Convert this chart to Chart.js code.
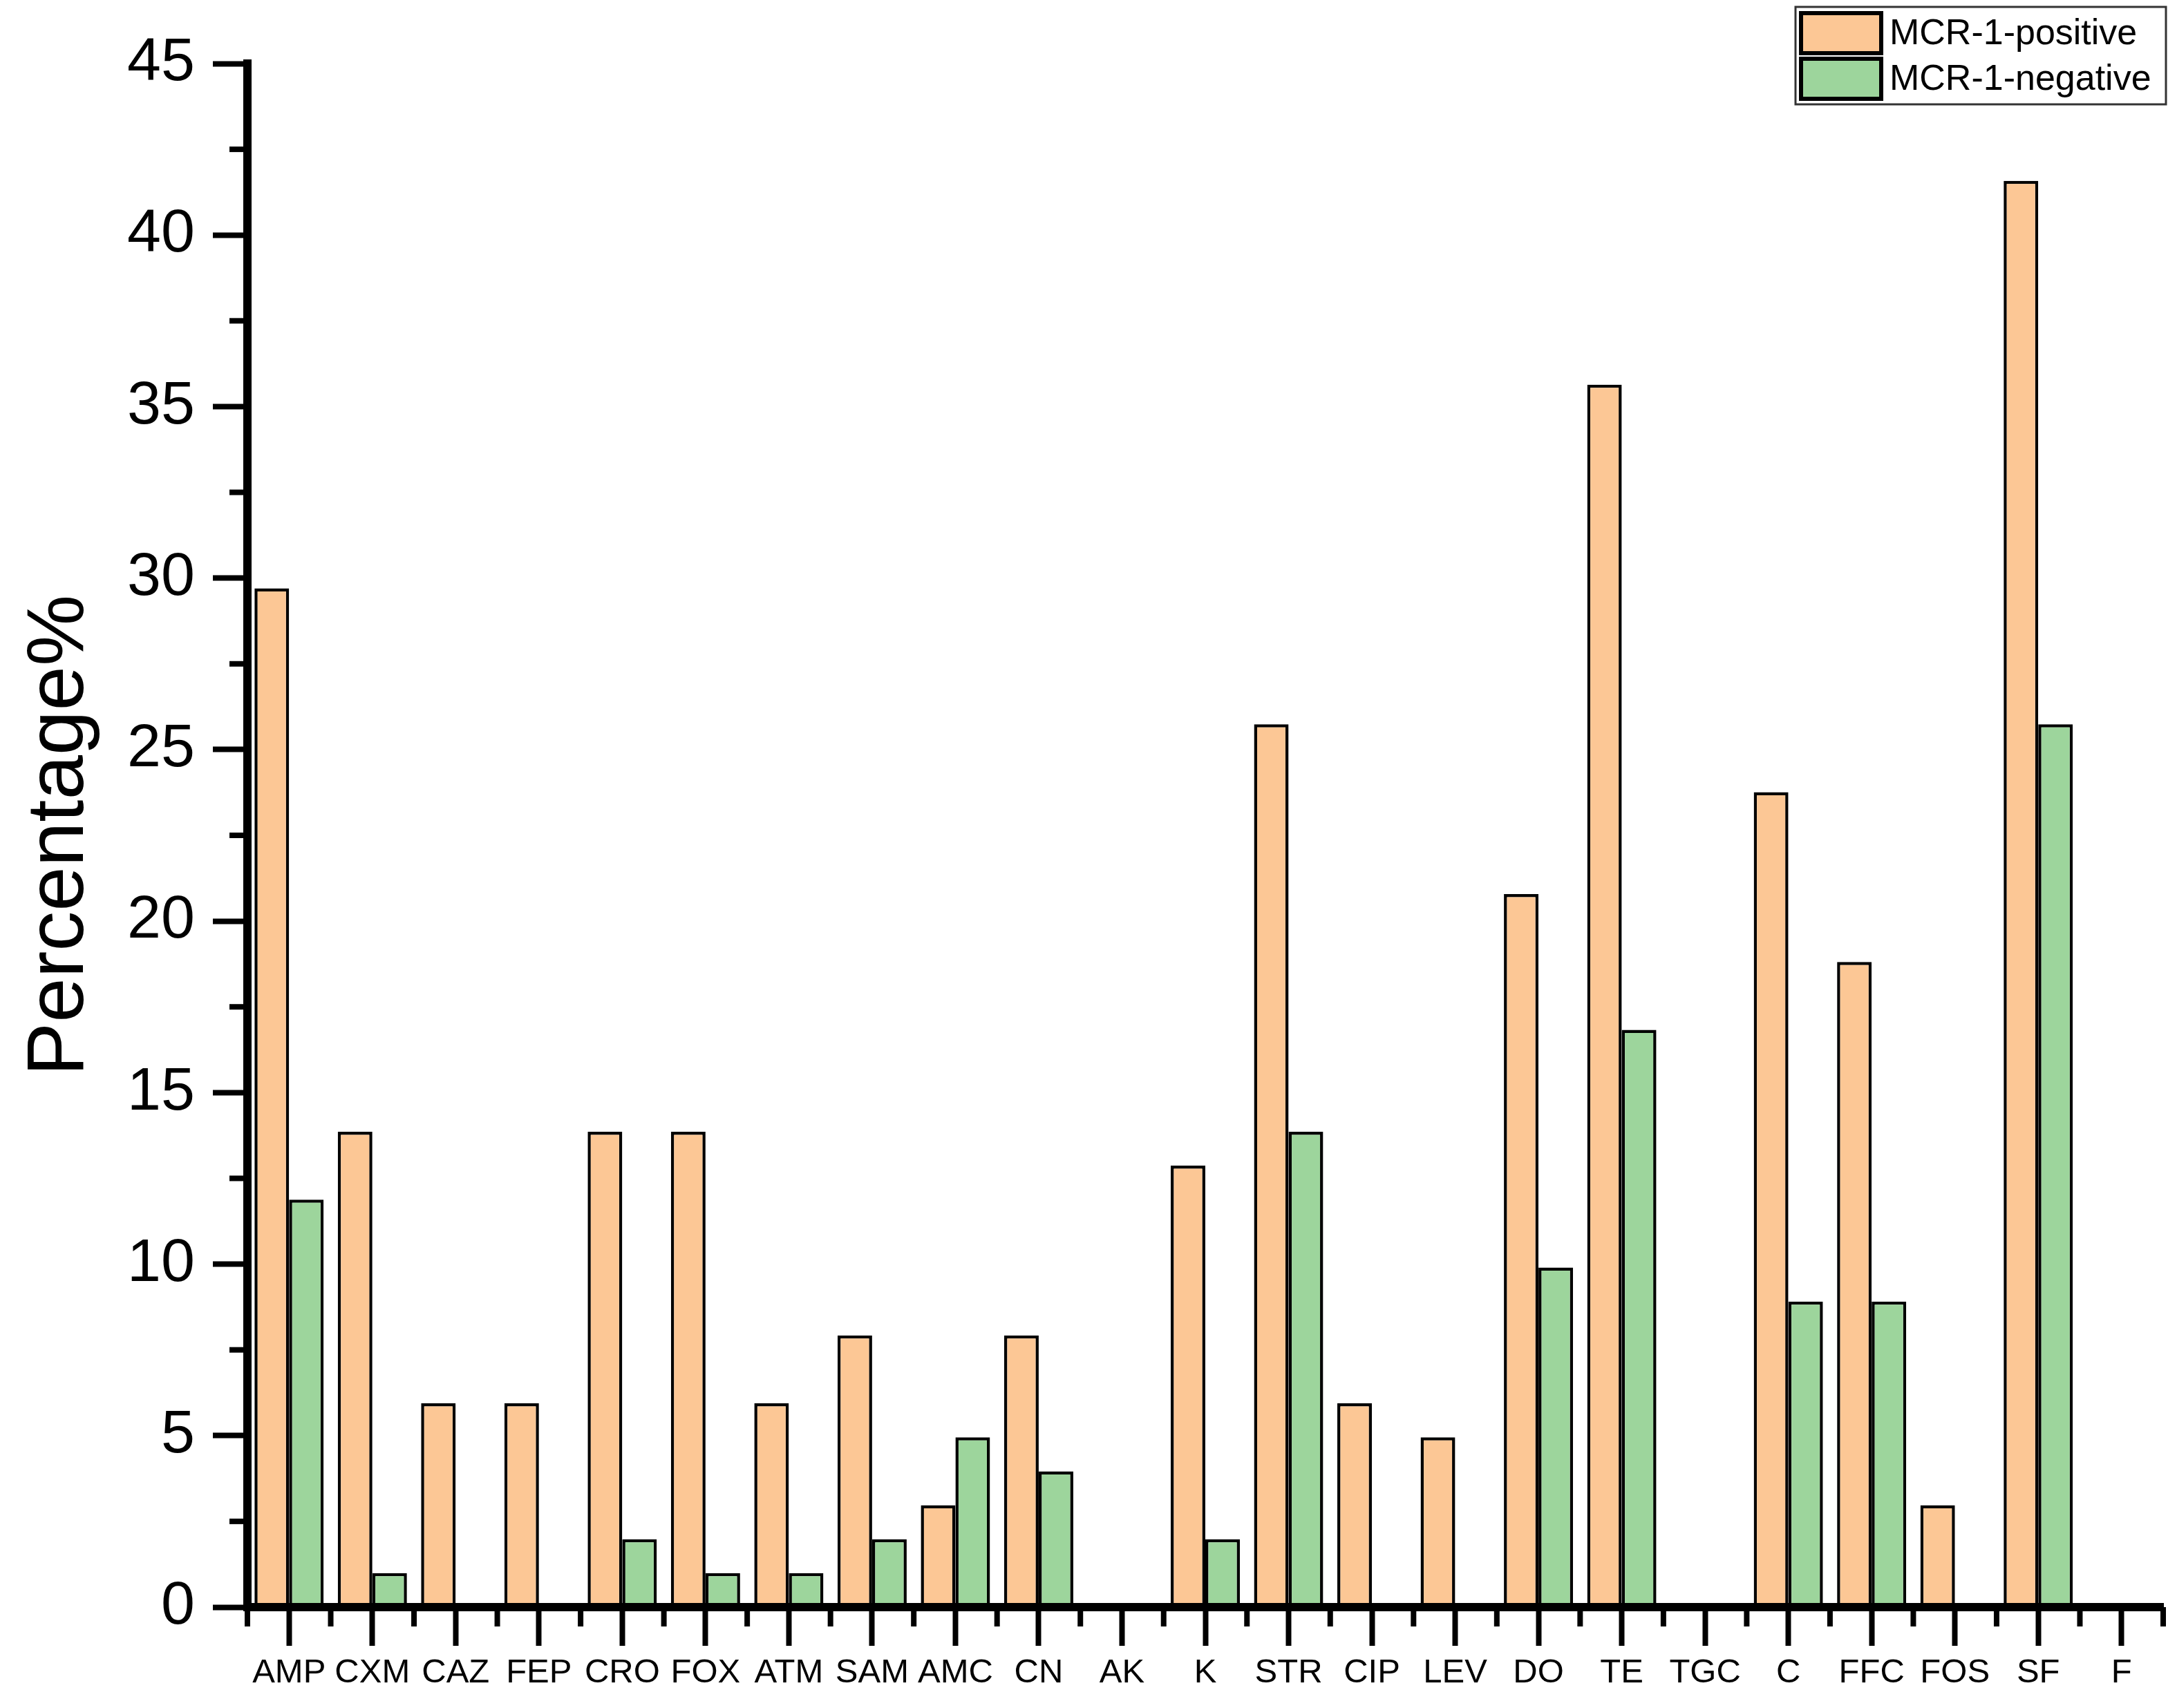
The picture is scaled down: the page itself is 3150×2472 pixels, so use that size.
<!DOCTYPE html>
<html>
<head>
<meta charset="utf-8">
<script src="https://cdn.jsdelivr.net/npm/chart.js@4/dist/chart.umd.min.js"></script>
<style>
  body { margin: 0; background: #fff; }
  #wrap { width: 3150px; height: 2472px; }
</style>
</head>
<body>
<div id="wrap"><canvas id="myChart" width="3150" height="2472"></canvas></div>
<script>
// antibiotics on the x axis
const drugs = ["AMP", "CXM", "CAZ", "FEP", "CRO", "FOX", "ATM", "SAM", "AMC", "CN", "AK", "K",
  "STR", "CIP", "LEV", "DO", "TE", "TGC", "C", "FFC", "FOS", "SF", "F"];
// resistance %
const mcrPositive = [29.70, 13.86, 5.94, 5.94, 13.86, 13.86, 5.94, 7.92, 2.97, 7.92, 0, 12.87,
  25.74, 5.94, 4.95, 20.79, 35.64, 0, 23.76, 18.81, 2.97, 41.58, 0];
const mcrNegative = [11.88, 0.99, 0, 0, 1.98, 0.99, 0.99, 1.98, 4.95, 3.96, 0, 1.98,
  13.86, 0, 0, 9.90, 16.83, 0, 8.91, 8.91, 0, 25.74, 0];
const seriesNames = ["MCR-1-positive", "MCR-1-negative"];
const yTicks = [0, 5, 10, 15, 20, 25, 30, 35, 40, 45];

const FONT = "'Liberation Sans', Arial, sans-serif";

// minor ticks between the major ones (origin style)
const minorTicks = {
  id: "minorTicks",
  afterDraw(chart) {
    const ctx = chart.ctx;
    const x = chart.scales.x, y = chart.scales.y;
    ctx.save();
    ctx.strokeStyle = "#000";
    ctx.lineWidth = 8;
    // y: halfway between labelled ticks
    for (let i = 0; i < yTicks.length - 1; i++) {
      const py = y.getPixelForValue((yTicks[i] + yTicks[i + 1]) / 2);
      ctx.beginPath();
      ctx.moveTo(y.right - 26, py);
      ctx.lineTo(y.right, py);
      ctx.stroke();
    }
    // x: on the category borders
    const half = (x.getPixelForValue(1) - x.getPixelForValue(0)) / 2;
    for (let i = 0; i <= drugs.length; i++) {
      const px = x.getPixelForValue(i) - half;
      ctx.beginPath();
      ctx.moveTo(px, x.top);
      ctx.lineTo(px, x.top + 28);
      ctx.stroke();
    }
    ctx.restore();
  }
};

// boxed legend in the top right corner
const boxLegend = {
  id: "boxLegend",
  afterDraw(chart) {
    const ctx = chart.ctx;
    const left = 2598, top = 10, w = 536, h = 141;
    ctx.save();
    ctx.fillStyle = "#fff";
    ctx.fillRect(left, top, w, h);
    ctx.strokeStyle = "#333";
    ctx.lineWidth = 3;
    ctx.strokeRect(left, top, w, h);
    chart.data.datasets.forEach((ds, i) => {
      const sy = top + 9 + i * 66;
      ctx.fillStyle = ds.backgroundColor;
      ctx.fillRect(left + 8, sy, 116, 58);
      ctx.strokeStyle = "#000";
      ctx.lineWidth = 6;
      ctx.strokeRect(left + 8, sy, 116, 58);
      ctx.fillStyle = "#000";
      ctx.font = "52px " + FONT;
      ctx.textBaseline = "middle";
      ctx.fillText(ds.label, left + 136, sy + 31);
    });
    ctx.restore();
  }
};

// no outline on empty bars, like the original
const edge = (c) => (c.raw === 0 ? 0 : 4.5);
const edgeColor = (c) => (c.raw === 0 ? "rgba(0,0,0,0)" : "#000");

new Chart(document.getElementById("myChart"), {
  type: "bar",
  data: {
    labels: drugs,
    datasets: [
      {
        label: seriesNames[0],
        data: mcrPositive,
        backgroundColor: "#FCC795",
        borderColor: edgeColor,
        borderWidth: edge,
        borderSkipped: "bottom"
      },
      {
        label: seriesNames[1],
        data: mcrNegative,
        backgroundColor: "#9DD59C",
        borderColor: edgeColor,
        borderWidth: edge,
        borderSkipped: "bottom"
      }
    ]
  },
  options: {
    responsive: false,
    animation: false,
    devicePixelRatio: 1,
    layout: { padding: { top: 92, right: 20, left: 0, bottom: 0 } },
    datasets: { bar: { categoryPercentage: 0.83, barPercentage: 1.0 } },
    plugins: {
      legend: { display: false },
      tooltip: { enabled: false }
    },
    scales: {
      x: {
        offset: true,
        grid: {
          offset: false,
          drawOnChartArea: false,
          tickLength: 56,
          tickWidth: 8,
          tickColor: "#000"
        },
        // axis line drawn over the bars
        border: { color: "#000", width: 12, z: 1 },
        ticks: {
          color: "#000",
          padding: 10,
          maxRotation: 0,
          autoSkip: false,
          font: { family: FONT, size: 49 }
        },
        afterFit(scale) { scale.height = 146; }
      },
      y: {
        min: 0,
        max: 45,
        afterBuildTicks(scale) { scale.ticks = yTicks.map(v => ({ value: v })); },
        grid: {
          drawOnChartArea: false,
          tickLength: 50,
          tickWidth: 8,
          tickColor: "#000"
        },
        border: { color: "#000", width: 12, z: 1 },
        ticks: {
          color: "#000",
          padding: 26,
          font: { family: FONT, size: 88 }
        },
        title: {
          display: true,
          text: "Percentage%",
          color: "#000",
          padding: { top: 18, bottom: 0 },
          font: { family: FONT, size: 116 }
        },
        afterFit(scale) { scale.width = 358; }
      }
    }
  },
  plugins: [minorTicks, boxLegend]
});
</script>
</body>
</html>
